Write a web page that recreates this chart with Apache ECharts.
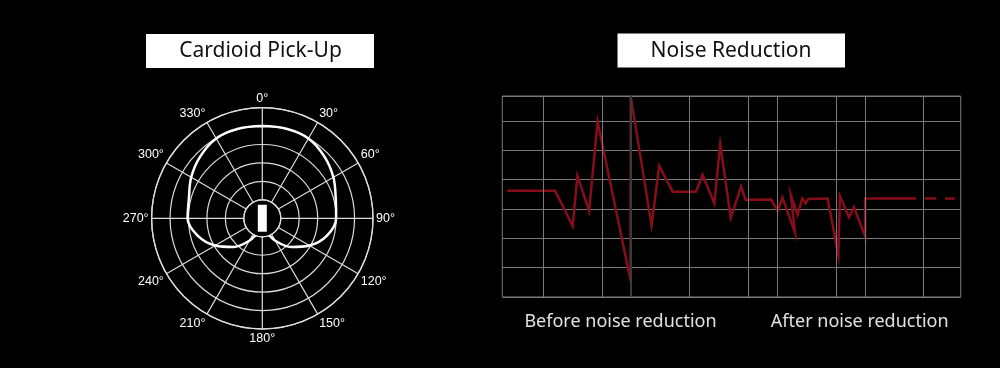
<!DOCTYPE html>
<html>
<head>
<meta charset="utf-8">
<script src="https://cdn.jsdelivr.net/npm/echarts@6/dist/echarts.min.js"></script>
<style>
  html, body { margin: 0; padding: 0; background: #000; }
  #chart { width: 1000px; height: 368px; }
</style>
</head>
<body>
<div id="chart"></div>
<script>
// ---------- Polar pattern (Cardioid Pick-Up) ----------
const patternAngles = [0, 15, 30, 45, 60, 75, 90, 105, 120, 135, 150, 165, 180,
                       195, 210, 225, 240, 255, 270, 285, 300, 315, 330, 345, 360];
const patternRadius = [5.0, 5.03, 5.0, 4.75, 4.45, 4.12, 4.0, 3.63, 2.95, 2.2, 1.4, 0.78, 0.64,
                       0.78, 1.4, 2.2, 2.95, 3.63, 4.05, 4.12, 4.45, 4.75, 5.0, 5.03, 5.0];
const angleTicks = [0, 30, 60, 90, 120, 150, 180, 210, 240, 270, 300, 330];
const micPoint = [[0, 0]];

// ---------- Noise reduction signal ----------
const signalX = [1.7, 18.0, 24.0, 25.6, 29.6, 32.5, 43.7, 43.8, 50.9, 53.5, 58.1, 66.0, 68.3, 72.3,
                 74.3, 77.9, 81.4, 83.0, 91.7, 93.9, 95.5, 99.8, 98.4, 100.7, 102.3, 103.4, 104.3,
                 110.9, 114.6, 115.1, 118.2, 119.9, 123.7, 123.7, 137.3];
const signalY = [3.62, 3.62, 2.42, 4.13, 2.94, 5.98, 0.58, 6.82, 2.45, 4.47, 3.59, 3.59, 4.16, 3.19,
                 5.21, 2.70, 3.76, 3.31, 3.32, 2.93, 3.39, 2.19, 3.48, 2.80, 3.36, 3.19, 3.34,
                 3.36, 1.43, 3.44, 2.72, 3.06, 2.07, 3.36, 3.36];
const tailX = [137.3, 154.3];
const tailY = [3.36, 3.36];
const vGridX = [14.1, 34.0, 63.8, 83.8, 93.9, 113.7, 123.7, 143.6];
const vGridDarkX = [43.8];

const titles = ['Cardioid Pick-Up', 'Noise Reduction'];
const captions = ['Before noise reduction', 'After noise reduction'];

const chart = echarts.init(document.getElementById('chart'), null, { renderer: 'canvas' });

const polarData = patternAngles.map((a, i) => [patternRadius[i], a]);
const signalData = signalX.map((x, i) => [x, signalY[i]]);
const tailData = tailX.map((x, i) => [x, tailY[i]]);

const gridColor = '#7a7a7a';
const polarLine = '#dcdcdc';
const signalColor = '#860e1a';

chart.setOption({
  backgroundColor: '#000',
  animation: false,
  polar: { center: [262.3, 218.3], radius: [18.5, 110.7] },
  angleAxis: {
    type: 'value', min: 0, max: 360, interval: 30, startAngle: 90, clockwise: true,
    axisLine: { show: true, lineStyle: { color: polarLine, width: 1.3 } },
    axisTick: { show: false },
    splitLine: { show: true, lineStyle: { color: polarLine, width: 1.2 } },
    axisLabel: {
      color: '#fff', fontSize: 12.5, margin: 3, fontFamily: 'Liberation Sans',
      formatter: v => (angleTicks.indexOf(v) >= 0 ? v + '°' : '')
    }
  },
  radiusAxis: {
    type: 'value', min: 1, max: 6, interval: 1,
    axisLine: { show: false }, axisTick: { show: false }, axisLabel: { show: false },
    splitLine: { show: true, lineStyle: { color: polarLine, width: 1.2 } }
  },
  grid: {
    left: 502.3, top: 96, right: 39.3, bottom: 71,
    show: true, borderColor: gridColor, borderWidth: 1, backgroundColor: 'transparent'
  },
  xAxis: {
    type: 'value', min: 0, max: 156.3,
    axisLine: { show: false }, axisTick: { show: false }, axisLabel: { show: false },
    splitLine: { show: false }
  },
  yAxis: {
    type: 'value', min: 0, max: 6.85, interval: 1,
    axisLine: { show: false }, axisTick: { show: false }, axisLabel: { show: false },
    splitLine: { show: true, lineStyle: { color: gridColor, width: 1 } }
  },
  series: [
    {
      type: 'line', coordinateSystem: 'polar', data: polarData, smooth: 0.35,
      showSymbol: false, clip: false, silent: true,
      lineStyle: { color: '#fff', width: 2.5 }, z: 5
    },
    {
      type: 'scatter', coordinateSystem: 'polar', data: micPoint, clip: false, silent: true,
      symbol: 'rect', symbolSize: [9, 27], itemStyle: { color: '#fff', opacity: 1 }, z: 6
    },
    {
      type: 'line', xAxisIndex: 0, yAxisIndex: 0, data: [], z: 1, silent: true,
      markLine: {
        silent: true, symbol: ['none', 'none'], label: { show: false },
        data: vGridX.map(x => ({ xAxis: x, lineStyle: { color: gridColor, width: 1, type: 'solid' } }))
          .concat(vGridDarkX.map(x => ({ xAxis: x, lineStyle: { color: '#3a3a3a', width: 2, type: 'solid' } })))
      }
    },
    {
      type: 'line', data: signalData, showSymbol: false, silent: true, z: 3,
      lineStyle: { color: signalColor, width: 2.5, join: 'miter' }
    },
    {
      type: 'line', data: tailData, showSymbol: false, silent: true, z: 3,
      lineStyle: { color: signalColor, width: 2.5, type: [11, 9] }
    }
  ],
  graphic: [
    { type: 'rect', shape: { x: 146, y: 34, width: 228, height: 34 }, style: { fill: '#fff' } },
    { type: 'text', x: 260.5, y: 51, style: { text: titles[0], font: '21px "Noto Sans"', fill: '#111', align: 'center', verticalAlign: 'middle' } },
    { type: 'rect', shape: { x: 617.5, y: 33.5, width: 227.5, height: 34 }, style: { fill: '#fff' } },
    { type: 'text', x: 731, y: 51, style: { text: titles[1], font: '21px "Noto Sans"', fill: '#111', align: 'center', verticalAlign: 'middle' } },
    { type: 'text', x: 620.5, y: 322, style: { text: captions[0], font: '18px "Noto Sans"', fill: '#e2e2e2', align: 'center', verticalAlign: 'middle' } },
    { type: 'text', x: 859.7, y: 322, style: { text: captions[1], font: '18px "Noto Sans"', fill: '#e2e2e2', align: 'center', verticalAlign: 'middle' } }
  ]
});
</script>
</body>
</html>
